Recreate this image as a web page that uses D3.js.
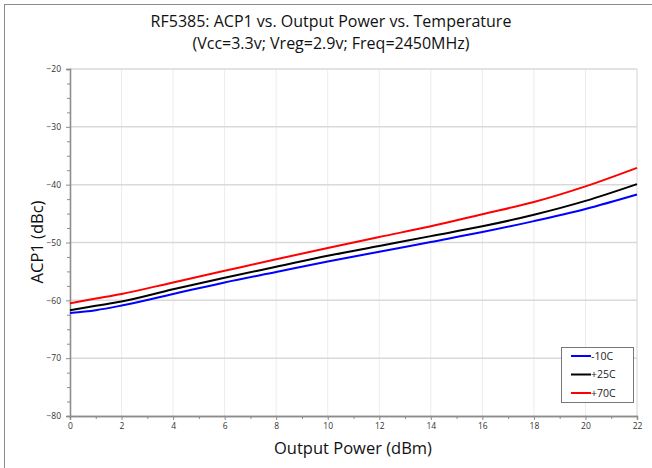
<!DOCTYPE html>
<html><head><meta charset="utf-8">
<script src="https://cdn.jsdelivr.net/npm/d3@7"></script>
<style>body{margin:0;background:#fff}svg{display:block}</style>
</head><body>
<script>
const xValues = [0, 1, 2, 4, 6, 8, 10, 12, 14, 16, 18, 20, 22];
const seriesNames = ["-10C", "+25C", "+70C"];
const seriesColors = ["#0000ff", "#000000", "#ff0000"];
const acpMinus10 = [-62.2, -61.7, -60.9, -58.9, -56.9, -55.1, -53.3, -51.6, -49.9, -48.2, -46.3, -44.2, -41.7];
const acpPlus25  = [-61.7, -60.95, -60.2, -58.1, -56.1, -54.2, -52.3, -50.6, -48.9, -47.2, -45.2, -42.8, -39.9];
const acpPlus70  = [-60.5, -59.7, -58.9, -56.9, -54.9, -52.9, -50.95, -49.05, -47.2, -45.1, -43.0, -40.3, -37.1];
const xTicks = [0, 2, 4, 6, 8, 10, 12, 14, 16, 18, 20, 22];
const yTicks = [-80, -70, -60, -50, -40, -30, -20];
const titleLines = ["RF5385: ACP1 vs. Output Power vs. Temperature", "(Vcc=3.3v; Vreg=2.9v; Freq=2450MHz)"];
const xLabel = "Output Power (dBm)";
const yLabel = "ACP1 (dBc)";

const W = 652, H = 468;
const m = {left: 70, right: 637, top: 69, bottom: 416};
const font = "'Open Sans', sans-serif";

const svg = d3.select("body").append("svg").attr("width", W).attr("height", H);

// outer border
svg.append("line").attr("x1", 4).attr("x2", W).attr("y1", 4.5).attr("y2", 4.5).attr("stroke", "#8a8a8a").attr("stroke-width", 1);
svg.append("line").attr("x1", 4.5).attr("x2", 4.5).attr("y1", 4).attr("y2", H).attr("stroke", "#8a8a8a").attr("stroke-width", 1);

const x = d3.scaleLinear().domain([0, 22]).range([m.left, m.right]);
const y = d3.scaleLinear().domain([-80, -20]).range([m.bottom, m.top]);

// vertical grid
svg.append("g").selectAll("line").data(xTicks.filter(d => d > 0)).join("line")
  .attr("x1", d => x(d)).attr("x2", d => x(d)).attr("y1", m.top).attr("y2", m.bottom)
  .attr("stroke", d => d === 22 ? "#d4d4d4" : "#ececec").attr("stroke-width", 1);
// horizontal grid
svg.append("g").selectAll("line").data(yTicks.filter(d => d > -80)).join("line")
  .attr("x1", m.left).attr("x2", m.right).attr("y1", d => y(d)).attr("y2", d => y(d))
  .attr("stroke", "#d9d9d9").attr("stroke-width", 1.5);

// axes
const xAxis = d3.axisBottom(x).tickValues(xTicks).tickSize(4).tickPadding(3).tickFormat(d3.format("d"));
const xMinor = d3.axisBottom(x).tickValues(d3.range(1, 22, 2)).tickSize(3).tickFormat("");
const yAxis = d3.axisLeft(y).tickValues(yTicks).tickSize(4).tickPadding(5).tickFormat(d3.format("d"));
const yMinor = d3.axisLeft(y).tickValues(d3.range(-77.5, -20, 2.5).filter(v => v % 10 !== 0)).tickSize(3).tickFormat("");

function styleAxis(g) {
  g.select(".domain").attr("stroke", "#8c8c8c").attr("stroke-width", 1.3);
  g.selectAll(".tick line").attr("stroke", "#8c8c8c");
  g.selectAll(".tick text").attr("fill", "#333").attr("font-size", 8.5).attr("font-family", font);
}
svg.append("g").attr("transform", `translate(0,${m.bottom})`).call(xMinor).call(styleAxis);
svg.append("g").attr("transform", `translate(0,${m.bottom})`).call(xAxis).call(styleAxis);
svg.append("g").attr("transform", `translate(${m.left},0)`).call(yMinor).call(styleAxis);
svg.append("g").attr("transform", `translate(${m.left},0)`).call(yAxis).call(styleAxis);

// lines
const allSeries = [acpMinus10, acpPlus25, acpPlus70];
const line = d3.line().x((d, i) => x(xValues[i])).y(d => y(d)).curve(d3.curveMonotoneX);
allSeries.forEach((s, i) => {
  svg.append("path").datum(s).attr("d", line).attr("fill", "none")
    .attr("stroke", seriesColors[i]).attr("stroke-width", 2);
});

// titles
svg.append("g").selectAll("text").data(titleLines).join("text")
  .attr("x", 331).attr("y", (d, i) => 27 + i * 22).attr("text-anchor", "middle")
  .attr("font-family", font).attr("font-size", 16).attr("fill", "#111").text(d => d);
svg.append("text").attr("x", 353).attr("y", 454).attr("text-anchor", "middle")
  .attr("font-family", font).attr("font-size", 16.5).attr("fill", "#111").text(xLabel);
svg.append("text").attr("transform", "translate(43,242) rotate(-90)").attr("text-anchor", "middle")
  .attr("font-family", font).attr("font-size", 16.5).attr("fill", "#111").text(yLabel);

// legend
const lg = svg.append("g");
lg.append("rect").attr("x", 561.5).attr("y", 347.5).attr("width", 72).attr("height", 55)
  .attr("fill", "#fff").attr("stroke", "#777").attr("stroke-width", 1);
seriesNames.forEach((n, i) => {
  const yy = 356 + i * 18.5;
  lg.append("line").attr("x1", 571).attr("x2", 591).attr("y1", yy).attr("y2", yy)
    .attr("stroke", seriesColors[i]).attr("stroke-width", 2);
  lg.append("text").attr("x", 591).attr("y", yy + 3.8).attr("font-family", font)
    .attr("font-size", 10.5).attr("fill", "#222").text(n);
});
</script>
</body></html>
